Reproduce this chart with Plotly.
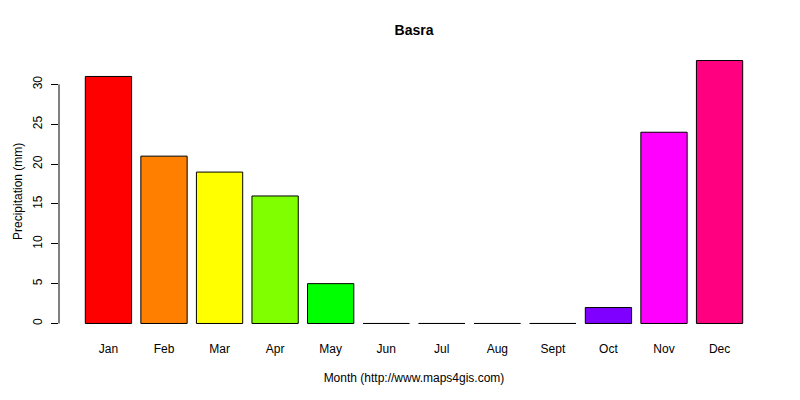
import plotly.graph_objects as go

months = ["Jan", "Feb", "Mar", "Apr", "May", "Jun", "Jul", "Aug", "Sept", "Oct", "Nov", "Dec"]
precip = [31, 21, 19, 16, 5, 0, 0, 0, 0, 2, 24, 33]
colors = ["#FF0000", "#FF8000", "#FFFF00", "#80FF00", "#00FF00", "#00FF80",
          "#00FFFF", "#0080FF", "#0000FF", "#8000FF", "#FF00FF", "#FF0080"]
yticks = [0, 5, 10, 15, 20, 25, 30]

font = "Liberation Sans, Arial, sans-serif"

# page body has an 8px default margin; figure is sized to fit the 800x400 window
W, H = 792, 392
L, R, T, B = 51, 31, 42, 66
PW = W - L - R

fig = go.Figure(go.Bar(
    x=months, y=precip,
    marker=dict(color=colors, line=dict(color="black", width=1)),
    width=1/1.2,
))

fig.update_layout(
    width=W, height=H,
    margin=dict(l=L, r=R, t=T, b=B, autoexpand=False),
    plot_bgcolor="white", paper_bgcolor="white",
    showlegend=False,
    font=dict(family=font, size=12, color="black"),
    title=dict(text="<b>Basra</b>", x=(414 - 8) / W, xanchor="center", y=1 - (30 - 8) / H, yanchor="middle",
               font=dict(size=14, family=font, color="black"), automargin=False),
    xaxis=dict(
        range=[-0.89, 11.89], showline=False, showgrid=False, zeroline=False,
        ticks="", ticklabelstandoff=6, automargin=False,
        title=dict(text="Month (http://www.maps4gis.com)", standoff=18, font=dict(size=12)),
    ),
    yaxis=dict(
        range=[-1.32, 34.32], showline=False, showgrid=False, zeroline=False,
        tickvals=yticks, ticks="outside", ticklen=7, tickcolor="black", tickwidth=1,
        tickangle=-90, ticklabelstandoff=4, automargin=False,
    ),
    annotations=[dict(text="Precipitation (mm)", xref="paper", yref="paper",
                      x=(1 - L) / PW, y=0.5, xanchor="left", yanchor="middle",
                      textangle=-90, showarrow=False, font=dict(size=12))],
    shapes=[dict(type="line", xref="paper", yref="y", x0=0, x1=0,
                 y0=yticks[0], y1=yticks[-1], line=dict(color="black", width=1))],
)

fig.write_html("out.html")
